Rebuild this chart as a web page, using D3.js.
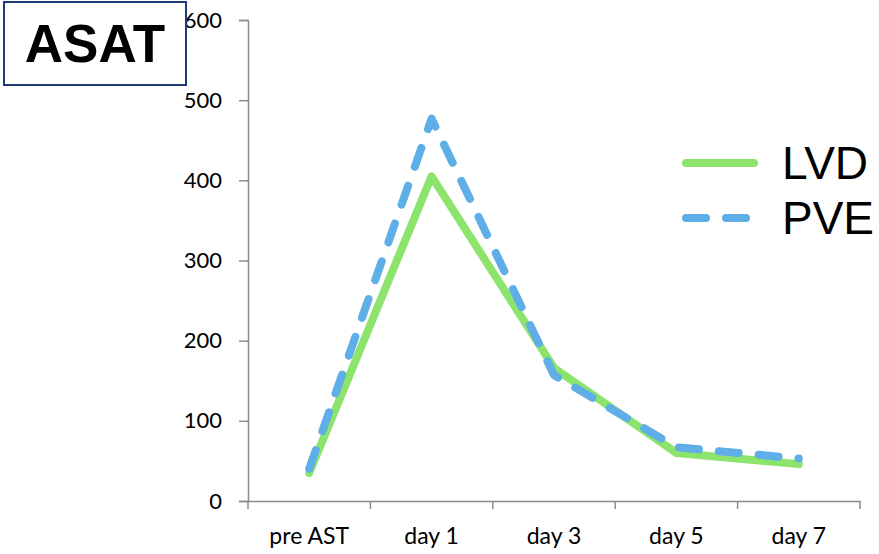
<!DOCTYPE html>
<html lang="en">
  <head>
    <meta charset="UTF-8" />
    <title>ASAT</title>
    <script src="https://d3js.org/d3.v7.min.js"></script>
    <style>
      body { margin: 0; background: #fff; }
    </style>
  </head>
  <body>
    <div id="chart"></div>
    <script>
      var categories = ["pre AST", "day 1", "day 3", "day 5", "day 7"];
      var lvd = [35, 405, 166, 60, 46];
      var pve = [40, 477, 157, 67, 53];
      var yTicks = [0, 100, 200, 300, 400, 500, 600];
      var seriesNames = ["LVD", "PVE"];

      var width = 879;
      var height = 554;

      var svg = d3
        .select("#chart")
        .append("svg")
        .attr("width", width)
        .attr("height", height);

      var x = d3.scaleBand().domain(categories).range([248, 860]);
      var y = d3.scaleLinear().domain([0, 600]).range([501, 20]);

      var axisColor = "#8c8c8c";
      var labelFont = "Lato, 'Open Sans', sans-serif";

      // y axis
      var yAxis = svg
        .append("g")
        .attr("transform", "translate(248,0)")
        .call(d3.axisLeft(y).tickValues(yTicks).tickSize(9).tickPadding(17));
      yAxis.select(".domain").attr("stroke", axisColor).attr("stroke-width", 1.5);
      yAxis.selectAll(".tick line").attr("stroke", axisColor).attr("stroke-width", 1.5);
      yAxis
        .selectAll(".tick text")
        .attr("fill", "#000")
        .style("font-family", labelFont)
        .style("font-size", "22px");

      // x axis
      var xAxis = svg
        .append("g")
        .attr("transform", "translate(0,501)")
        .call(d3.axisBottom(x).tickSize(0).tickPadding(27).tickSizeOuter(0));
      xAxis.select(".domain").attr("stroke", axisColor).attr("stroke-width", 1.5);
      xAxis
        .selectAll(".tick text")
        .attr("fill", "#000")
        .style("font-family", labelFont)
        .style("font-size", "23px");

      // category boundary ticks
      var bounds = categories.map(function (c) { return x(c); }).concat([x.range()[1]]);
      xAxis
        .selectAll(".bound")
        .data(bounds)
        .enter()
        .append("line")
        .attr("class", "bound")
        .attr("x1", function (d) { return d; })
        .attr("x2", function (d) { return d; })
        .attr("y1", 0)
        .attr("y2", 8)
        .attr("stroke", axisColor)
        .attr("stroke-width", 1.5);

      var cx = function (d, i) { return x(categories[i]) + x.bandwidth() / 2; };

      var line = d3
        .line()
        .x(cx)
        .y(function (d) { return y(d); });

      svg
        .append("path")
        .datum(lvd)
        .attr("fill", "none")
        .attr("stroke", "#8ce46c")
        .attr("stroke-width", 8)
        .attr("stroke-linecap", "round")
        .attr("stroke-linejoin", "round")
        .attr("d", line);

      svg
        .append("path")
        .datum(pve)
        .attr("fill", "none")
        .attr("stroke", "#5faee8")
        .attr("stroke-width", 8)
        .attr("stroke-linecap", "round")
        .attr("stroke-linejoin", "round")
        .attr("stroke-dasharray", "20,20")
        .attr("d", line);

      // legend
      var legend = svg.append("g");
      var legendY = [163, 218];
      legend
        .append("line")
        .attr("x1", 686).attr("x2", 754)
        .attr("y1", legendY[0]).attr("y2", legendY[0])
        .attr("stroke", "#8ce46c")
        .attr("stroke-width", 8)
        .attr("stroke-linecap", "round");
      legend
        .append("line")
        .attr("x1", 686).attr("x2", 754)
        .attr("y1", legendY[1]).attr("y2", legendY[1])
        .attr("stroke", "#5faee8")
        .attr("stroke-width", 8)
        .attr("stroke-linecap", "round")
        .attr("stroke-dasharray", "20,20");
      legend
        .selectAll("text")
        .data(seriesNames)
        .enter()
        .append("text")
        .attr("x", 782)
        .attr("y", function (d, i) { return legendY[i] + 16; })
        .style("font-family", "'Liberation Sans', Arial, sans-serif")
        .style("font-size", "46px")
        .text(function (d) { return d; });

      // title box
      svg
        .append("rect")
        .attr("x", 4)
        .attr("y", 2)
        .attr("width", 182)
        .attr("height", 83)
        .attr("fill", "#fff")
        .attr("stroke", "#1f3a78")
        .attr("stroke-width", 2);
      svg
        .append("text")
        .attr("x", 95)
        .attr("y", 62)
        .attr("text-anchor", "middle")
        .style("font-family", "'Liberation Sans', Arial, sans-serif")
        .style("font-weight", "bold")
        .style("font-size", "53px")
        .text("ASAT");
    </script>
  </body>
</html>
